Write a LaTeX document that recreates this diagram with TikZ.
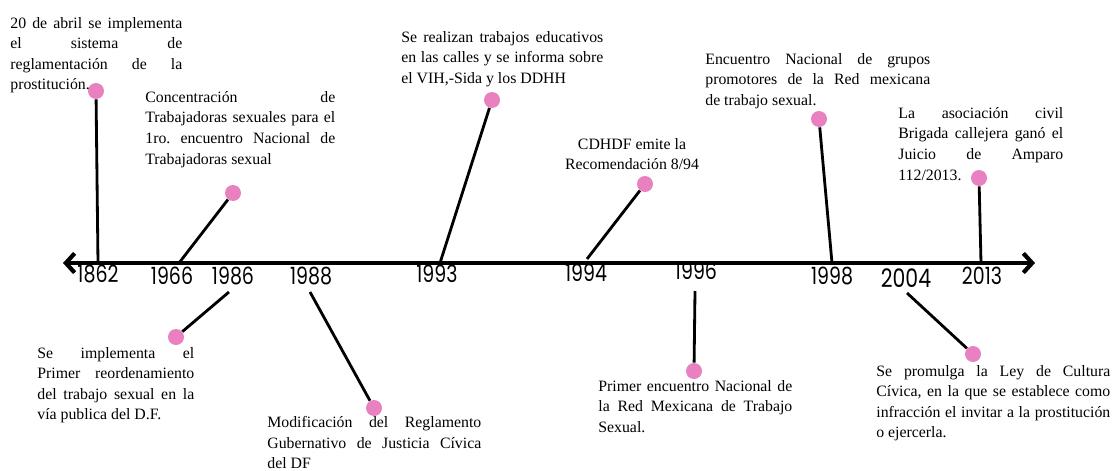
\documentclass[tikz,border=0pt]{standalone}
\usepackage{fontspec}
\setmainfont{Liberation Serif}
\newfontfamily\yearfont[FakeStretch=0.8]{Poppins}
\usepackage{xcolor}
\usetikzlibrary{arrows.meta,positioning}
\definecolor{dotpink}{RGB}{233,128,192}
\hyphenpenalty=10000
\hbadness=10000
\frenchspacing

\begin{document}
\begin{tikzpicture}[
        x=0.02cm, y=-0.02cm,
        axisline/.style={
            line width=2.4pt,
            {Straight Barb[length=5pt,width=11pt]}-{Straight Barb[length=5pt,width=11pt]}
        },
        stem/.style={line width=1.6pt},
        pinkdot/.style={circle, fill=dotpink, inner sep=0pt, minimum size=0.32cm},
        year/.style={inner sep=0pt, font=\yearfont\fontsize{13.5}{13.5}\selectfont},
        note/.style={inner sep=0pt, anchor=north west, align=justify,
            font=\fontsize{9}{11.7}\selectfont}
    ]
                \useasboundingbox (0,0) rectangle (1118,470);

                \coordinate (axL) at (63,263);
                \coordinate (axR) at (1035,263);
                \draw[axisline] (axL) -- (axR);

                \node[year] (y1862) at (98,274) {1862};
                \node[year] (y1966) at (172,276) {1966};
                \node[year] (y1986) at (233,276) {1986};
                \node[year] (y1988) at (311,276) {1988};
                \node[year] (y1993) at (437,274) {1993};
                \node[year] (y1994) at (586,273) {1994};
                \node[year] (y1996) at (696,271) {1996};
                \node[year] (y1998) at (832,276) {1998};
                \node[year, font=\yearfont\fontsize{14.5}{14.5}\selectfont] (y2004) at (906,278) {2004};
                \node[year] (y2013) at (982,276) {2013};

                \node[pinkdot] (d1862) at (96,91) {};
                \node[pinkdot] (d1966) at (233,193) {};
                \node[pinkdot] (d1993) at (492,100) {};
                \node[pinkdot] (d1994) at (645,184) {};
                \node[pinkdot] (d1998) at (819,119) {};
                \node[pinkdot] (d2013) at (979,178) {};
                \node[pinkdot] (d1986) at (176,337) {};
                \node[pinkdot] (d1988) at (374,408) {};
                \node[pinkdot] (d1996) at (694,371) {};
                \node[pinkdot] (d2004) at (973,354) {};

                \coordinate (a1862) at (98,263);
                \coordinate (a1966) at (179,263);
                \coordinate (a1993) at (440,263);
                \coordinate (a1994) at (587,259);
                \coordinate (a1998) at (832,263);
                \coordinate (a2013) at (981,263);
                \coordinate (b1986) at (229,292);
                \coordinate (b1988) at (310,292);
                \coordinate (b1996) at (695,291);
                \coordinate (b2004) at (907,293);

                \draw[stem] (a1862) -- (d1862);
                \draw[stem] (a1966) -- (d1966);
                \draw[stem] (a1993) -- (d1993);
                \draw[stem] (a1994) -- (d1994);
                \draw[stem] (a1998) -- (d1998);
                \draw[stem] (a2013) -- (d2013);
                \draw[stem] (b1986) -- (d1986);
                \draw[stem] (b1988) -- (d1988);
                \draw[stem] (b1996) -- (d1996);
                \draw[stem] (b2004) -- (d2004);

                \node[note, text width=3.44cm] (t1862) at (10,17)
                    {20 de abril se implementa\linebreak el sistema de\linebreak reglamentación de la\linebreak prostitución.};
                \node[note, text width=3.8cm] (t1966) at (145,91)
                    {Concentración de\linebreak Trabajadoras sexuales para el\linebreak 1ro. encuentro Nacional de\linebreak Trabajadoras sexual};
                \node[note, text width=4.04cm] (t1993) at (401,31)
                    {Se realizan trabajos educativos\linebreak en las calles y se informa sobre\linebreak el VIH,-Sida y los DDHH};
                \node[note, anchor=north, align=center] (t1994) at (632,138)
                    {CDHDF emite la\\ Recomendación 8/94};
                \node[note, text width=4.5cm] (t1998) at (705,53)
                    {Encuentro Nacional de grupos\linebreak promotores de la Red mexicana\linebreak de trabajo sexual.};
                \node[note, text width=3.3cm] (t2013) at (898,107)
                    {La asociación civil\linebreak Brigada callejera ganó el\linebreak Juicio de Amparo\linebreak 112/2013.};
                \node[note, text width=3.14cm] (t1986) at (37,347)
                    {Se implementa el\linebreak Primer reordenamiento\linebreak del trabajo sexual en la\linebreak vía publica del D.F.};
                \node[note, text width=4.28cm] (t1988) at (267,416)
                    {Modificación del Reglamento\linebreak Gubernativo de Justicia Cívica\linebreak del DF};
                \node[note, text width=3.88cm] (t1996) at (598,380)
                    {Primer encuentro Nacional de\linebreak la Red Mexicana de Trabajo\linebreak Sexual.};
                \node[note, text width=4.68cm] (t2004) at (876,365)
                    {Se promulga la Ley de Cultura\linebreak Cívica, en la que se establece como\linebreak infracción el invitar a la prostitución\linebreak o ejercerla.};

            \end{tikzpicture}
\end{document}
